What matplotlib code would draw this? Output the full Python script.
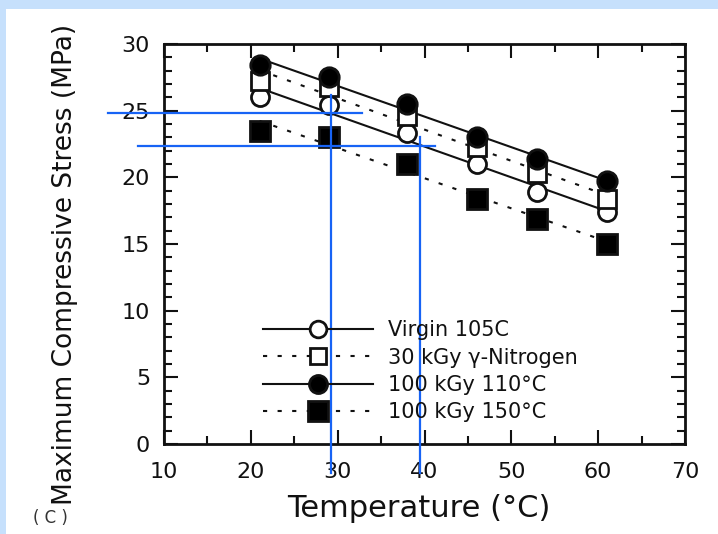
import numpy as np
import matplotlib
matplotlib.use("Agg")
import matplotlib.pyplot as plt
from matplotlib.patches import Rectangle

# temperatures (deg C) where the groups of markers sit
temps = [21, 29, 38, 46, 53, 61]

# maximum compressive stress (MPa)
virgin = [26.0, 25.4, 23.3, 21.0, 18.9, 17.4]
kgy30_n2 = [27.2, 26.8, 24.6, 22.3, 20.3, 18.4]
kgy100_110 = [28.4, 27.5, 25.5, 23.0, 21.4, 19.7]
kgy100_150 = [23.5, 23.0, 21.0, 18.4, 16.9, 15.0]

labels = ["Virgin 105C", "30 kGy \u03b3-Nitrogen", "100 kGy 110\u00b0C", "100 kGy 150\u00b0C"]

# blue guide lines drawn over the scanned figure
guide_h = [(24.8, 3.5, 32.8), (22.35, 7.0, 41.2)]   # (y, x_start, x_end)
guide_v = [(29.2, 26.2, -2.2), (39.5, 23.0, -2.2)]  # (x, y_top, y_bottom)

plt.rcParams["font.family"] = ["DejaVu Sans"]
ink = "#111111"

fig = plt.figure(figsize=(7.18, 5.34), dpi=100, facecolor="#c6e0fc")
fig.patches.append(Rectangle((6 / 718, 0), 1, 1 - 9 / 534, transform=fig.transFigure,
                             facecolor="white", edgecolor="none", zorder=-10))

ax = fig.add_axes([164 / 718, 1 - 444 / 534, 521 / 718, 400 / 534])
ax.set_facecolor("none")

series = [
    (virgin, "-", dict(marker="o", mfc="white", ms=13)),
    (kgy30_n2, (0, (2, 5)), dict(marker="s", mfc="white", ms=13)),
    (kgy100_110, "-", dict(marker="o", mfc="black", ms=14)),
    (kgy100_150, (0, (2, 5)), dict(marker="s", mfc="black", ms=15)),
]

x = np.array(temps, dtype=float)
xs = np.linspace(x.min(), x.max(), 2)
for (vals, ls, mk), lab in zip(series, labels):
    k, b = np.polyfit(x, vals, 1)
    ax.plot(xs, k * xs + b, color=ink, lw=1.5, ls=ls, zorder=2)
    ax.plot(x, vals, ls="none", color=ink, mec=ink, mew=2, zorder=3, **mk)
    # proxy artist for the legend: line with marker in the middle
    ax.plot([], [], color=ink, lw=1.5, ls=ls, mec=ink, mew=2, label=lab,
            **{**mk, "ms": mk["ms"] - 1})

ax.set_xlim(10, 70)
ax.set_ylim(0, 30)
ax.set_xticks(np.arange(10, 71, 10))
ax.set_xticks(np.arange(15, 70, 10), minor=True)
ax.set_yticks(np.arange(0, 31, 5))
ax.set_yticks(np.arange(0, 31, 1), minor=True)
ax.tick_params(which="both", direction="in", top=True, right=True, color=ink, width=1.5)
ax.tick_params(which="major", length=10, labelsize=16, labelcolor=ink)
ax.tick_params(which="minor", length=6)
ax.tick_params(axis="x", which="major", pad=13)
ax.tick_params(axis="y", which="major", pad=10)
for sp in ax.spines.values():
    sp.set_linewidth(2)
    sp.set_color(ink)

ax.set_xlabel("Temperature (\u00b0C)", fontsize=22, color=ink)
ax.xaxis.set_label_coords(0.49, -0.125)
ax.set_ylabel("Maximum Compressive Stress (MPa)", fontsize=19, color=ink)
ax.yaxis.set_label_coords(-0.165, 0.45)

leg = ax.legend(loc="upper left", bbox_to_anchor=(0.19, 0.31), frameon=False,
                fontsize=15, handlelength=5.3, handletextpad=0.72, labelspacing=0.36,
                borderpad=0, borderaxespad=0, numpoints=1)
for t in leg.get_texts():
    t.set_color(ink)

blue = "#1763f5"
for yv, x0, x1 in guide_h:
    ax.plot([x0, x1], [yv, yv], color=blue, lw=1.6, clip_on=False, zorder=5)
for xv, y0, y1 in guide_v:
    ax.plot([xv, xv], [y0, y1], color=blue, lw=1.6, clip_on=False, zorder=5)

fig.text(50 / 718, 1 - 518 / 534, "( C )", fontsize=12, color="#333333",
         ha="center", va="center")

fig.savefig("out.png", dpi=100, facecolor=fig.get_facecolor())
